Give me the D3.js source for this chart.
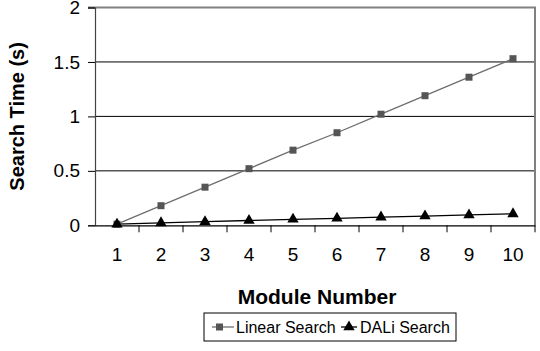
<!DOCTYPE html>
<html>
<head>
<meta charset="utf-8">
<script src="https://cdn.jsdelivr.net/npm/d3@7/dist/d3.min.js"></script>
<style>
  html, body { margin: 0; padding: 0; background: #fff; }
  svg { display: block; font-family: "Liberation Sans", Arial, sans-serif; }
</style>
</head>
<body>
<svg id="chart" width="540" height="351"></svg>
<script>
// Search time per module count for two lookup strategies
const modules = [1, 2, 3, 4, 5, 6, 7, 8, 9, 10];
const linearSearch = [0.01, 0.18, 0.35, 0.52, 0.69, 0.85, 1.02, 1.19, 1.36, 1.53];
const daliSearch = [0.01, 0.022, 0.033, 0.044, 0.055, 0.064, 0.075, 0.085, 0.095, 0.105];
const yTicks = [0, 0.5, 1, 1.5, 2];
const seriesNames = ["Linear Search", "DALi Search"];

const svg = d3.select("#chart");
const plot = { left: 95, right: 535, top: 7.5, bottom: 225.3 };

const x = d3.scaleBand().domain(modules).range([plot.left, plot.right]);
const y = d3.scaleLinear().domain([0, 2]).range([plot.bottom, plot.top]);

// horizontal gridlines
svg.append("g")
  .selectAll("line")
  .data(yTicks.filter(t => t > 0 && t < 2))
  .join("line")
  .attr("x1", plot.left).attr("x2", plot.right)
  .attr("y1", d => y(d)).attr("y2", d => y(d))
  .attr("stroke", "#000").attr("stroke-width", 1);

// plot frame: top and right edges
svg.append("path")
  .attr("d", `M${plot.left - 7},${plot.top}H${plot.right}V${plot.bottom}`)
  .attr("fill", "none").attr("stroke", "#808080").attr("stroke-width", 2);

// y axis
const yAxis = svg.append("g")
  .attr("transform", `translate(${plot.left},0)`)
  .call(d3.axisLeft(y).tickValues(yTicks).tickSize(7).tickPadding(8).tickFormat(d3.format("")));
yAxis.select(".domain").attr("stroke", "#444").attr("stroke-width", 1.2);
yAxis.selectAll(".tick line").attr("stroke", "#000");
yAxis.selectAll(".tick text").attr("font-size", 19).attr("fill", "#000")
  .attr("font-family", "Liberation Sans, Arial, sans-serif");

// x axis with ticks at band boundaries
const xAxis = svg.append("g")
  .attr("transform", `translate(0,${plot.bottom})`)
  .call(d3.axisBottom(x).tickSize(0).tickPadding(22));
xAxis.select(".domain").attr("stroke", "#000").attr("stroke-width", 1.2);
xAxis.selectAll(".tick text").attr("font-size", 19).attr("fill", "#000")
  .attr("font-family", "Liberation Sans, Arial, sans-serif");
xAxis.append("g")
  .selectAll("line")
  .data(modules)
  .join("line")
  .attr("x1", d => x(d) + x.bandwidth()).attr("x2", d => x(d) + x.bandwidth())
  .attr("y1", 0).attr("y2", 7)
  .attr("stroke", "#000");

// axis titles
svg.append("text")
  .attr("transform", `translate(24,${(plot.top + plot.bottom) / 2}) rotate(-90)`)
  .attr("text-anchor", "middle")
  .attr("font-size", 20).attr("font-weight", "bold")
  .text("Search Time (s)");
svg.append("text")
  .attr("x", (plot.left + plot.right) / 2 + 2).attr("y", 304)
  .attr("text-anchor", "middle")
  .attr("font-size", 21).attr("font-weight", "bold")
  .text("Module Number");

const cx = d => x(d) + x.bandwidth() / 2;
const lineGen = vals => d3.line().x((d, i) => cx(modules[i])).y(d => y(d))(vals);
const tri = d3.symbol().type(d3.symbolTriangle).size(56);

// Linear search series
svg.append("path").attr("d", lineGen(linearSearch))
  .attr("fill", "none").attr("stroke", "#6e6e6e").attr("stroke-width", 1.3);
// DALi series
svg.append("path").attr("d", lineGen(daliSearch))
  .attr("fill", "none").attr("stroke", "#000").attr("stroke-width", 1.3);

svg.append("g").selectAll("rect")
  .data(linearSearch)
  .join("rect")
  .attr("x", (d, i) => cx(modules[i]) - 3.5)
  .attr("y", d => y(d) - 3.5)
  .attr("width", 7).attr("height", 7)
  .attr("fill", "#555");

svg.append("g").selectAll("path")
  .data(daliSearch)
  .join("path")
  .attr("d", tri)
  .attr("transform", (d, i) => `translate(${cx(modules[i])},${y(d)})`)
  .attr("fill", "#000");

// legend
const legend = svg.append("g");
const lgX = 204, lgY = 313, lgW = 252, lgH = 28;
legend.append("rect")
  .attr("x", lgX).attr("y", lgY).attr("width", lgW).attr("height", lgH)
  .attr("fill", "#fff").attr("stroke", "#000").attr("stroke-width", 1);
const li = legend.append("g").attr("transform", `translate(${lgX + 8},${lgY + lgH / 2})`);
li.append("line").attr("x1", 0).attr("x2", 22).attr("stroke", "#6e6e6e").attr("stroke-width", 1.3);
li.append("rect").attr("x", 4).attr("y", -3.5).attr("width", 7).attr("height", 7).attr("fill", "#555");
li.append("text").attr("x", 24).attr("dy", "0.35em").attr("font-size", 16).text(seriesNames[0]);
const ld = legend.append("g").attr("transform", `translate(${lgX + 137},${lgY + lgH / 2})`);
ld.append("line").attr("x1", 0).attr("x2", 16).attr("stroke", "#000").attr("stroke-width", 1.3);
ld.append("path").attr("d", tri).attr("transform", "translate(8,0)").attr("fill", "#000");
ld.append("text").attr("x", 19).attr("dy", "0.35em").attr("font-size", 16).text(seriesNames[1]);
</script>
</body>
</html>
